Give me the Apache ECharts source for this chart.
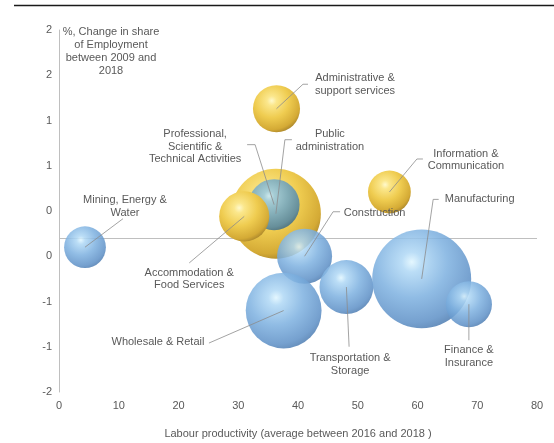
<!DOCTYPE html>
<html>
<head>
<meta charset="utf-8">
<script src="https://cdn.jsdelivr.net/npm/echarts@6/dist/echarts.min.js"></script>
<style>
  html, body { margin: 0; padding: 0; background: #ffffff; }
  #chart { width: 554px; height: 443px; }
</style>
</head>
<body>
<div id="chart"></div>
<script>
// Sectors, drawn back to front so the small bubbles sit over the large ones
const categories = [
  'Public\nadministration',
  'Professional,\nScientific &\nTechnical Activities',
  'Accommodation &\nFood Services',
  'Administrative &\nsupport services',
  'Information &\nCommunication',
  'Mining, Energy &\nWater',
  'Construction',
  'Wholesale & Retail',
  'Transportation &\nStorage',
  'Manufacturing',
  'Finance &\nInsurance'
];
// Labour productivity (average 2016-2018)
const productivity = [36.3, 36.0, 31.0, 36.4, 55.3, 4.35, 41.1, 37.6, 48.1, 60.7, 68.6];
// Change in share of employment 2009-2018 (percentage points)
const shareChange = [0.27, 0.37, 0.24, 1.43, 0.51, -0.10, -0.20, -0.80, -0.54, -0.45, -0.73];
// Share of employment (%), drives bubble area
const employmentShare = [19.0, 6.1, 5.9, 5.2, 4.3, 4.1, 7.1, 13.5, 6.8, 23.0, 5.0];

// Axis ticks
const xTickValues = [0, 10, 20, 30, 40, 50, 60, 70, 80];
const yTickValues = [-1.7, -1.2, -0.7, -0.2, 0.3, 0.8, 1.3, 1.8, 2.3];
const yTickLabels = ['-2', '-1', '-1', '0', '0', '1', '1', '2', '2'];

// ---- styling ----
const FONT = '"Liberation Sans", Arial, sans-serif';
const TEXT = '#595959';

function ball(c) {
  return {
    type: 'radial', x: 0.4, y: 0.33, r: 0.72,
    colorStops: [
      { offset: 0, color: c[0] },
      { offset: 0.14, color: c[1] },
      { offset: 0.5, color: c[2] },
      { offset: 0.85, color: c[3] },
      { offset: 1, color: c[4] }
    ]
  };
}
const tones = {
  gold: ['#FFF9CC', '#FBE78C', '#EFCC50', '#D4AA35', '#A3802A'],
  blue: ['#E0F6FF', '#B0D8F5', '#7EB1E0', '#5F91C7', '#4A78AC'],
  teal: ['#CDE8EC', '#A6CDD5', '#84AEB8', '#678F9A', '#51727C']
};
const toneOf = ['gold', 'teal', 'gold', 'gold', 'gold', 'blue', 'blue', 'blue', 'blue', 'blue', 'blue'];
const opacityOf = { gold: 1, teal: 1, blue: 0.86 };

// pixel radius per sqrt(share)
const RADIUS_K = 10.32;

// Label text position (block centre) and leader path, relative to each bubble centre
const labelPlacement = [
  { text: [54, -73.5],   leader: [[0, 0], [9, -74], [16, -74]] },
  { text: [-79, -58],    leader: [[0, 0], [-19, -60], [-27, -60]] },
  { text: [-55, 62.5],   leader: [[0, 0], [-55, 46.5]] },
  { text: [78.5, -24],   leader: [[0, 0], [26.5, -24.5], [31.5, -24.5]] },
  { text: [76.5, -32],   leader: [[0, 0], [27.5, -33], [33.5, -33]] },
  { text: [40, -40.5],   leader: [[0, 0], [38, -28.5]] },
  { text: [70, -43.5],   leader: [[0, 0], [28.5, -44.5], [35.5, -44.5]] },
  { text: [-125.7, 31.5], leader: [[0, 0], [-74.7, 32.5]] },
  { text: [3.7, 77.2],   leader: [[0, 0], [2.7, 59.7]] },
  { text: [58, -79.5],   leader: [[0, 0], [11.5, -79.5], [17, -79.5]] },
  { text: [0, 52.5],     leader: [[0, 0], [0, 36]] }
];

const bubbleData = categories.map((name, i) => ({
  name: name,
  value: [productivity[i], shareChange[i], employmentShare[i]],
  itemStyle: { color: ball(tones[toneOf[i]]), opacity: opacityOf[toneOf[i]] }
}));

const labelData = categories.map((name, i) => [productivity[i], shareChange[i], i]);

const chart = echarts.init(document.getElementById('chart'), null, { renderer: 'canvas' });

chart.setOption({
  animation: false,
  backgroundColor: '#ffffff',
  grid: { left: 59, right: 17, top: 30, bottom: 51, containLabel: false, outerBoundsMode: 'none' },
  xAxis: {
    type: 'value',
    min: xTickValues[0],
    max: xTickValues[xTickValues.length - 1],
    interval: 10,
    axisLine: { show: false },
    axisTick: { show: false },
    splitLine: { show: false },
    axisLabel: { color: TEXT, fontFamily: FONT, fontSize: 11, margin: 8 },
    name: 'Labour productivity (average between 2016 and 2018 )',
    nameLocation: 'middle',
    nameGap: 36,
    nameTextStyle: { color: TEXT, fontFamily: FONT, fontSize: 11 }
  },
  yAxis: {
    type: 'value',
    min: yTickValues[0],
    max: yTickValues[yTickValues.length - 1],
    axisLine: { show: true, onZero: false, lineStyle: { color: '#BFBFBF', width: 1 } },
    axisTick: { show: false },
    splitLine: { show: false },
    axisLabel: {
      color: TEXT, fontFamily: FONT, fontSize: 11, margin: 7,
      customValues: yTickValues,
      formatter: function (v) {
        const k = yTickValues.findIndex(t => Math.abs(t - v) < 1e-6);
        return k >= 0 ? yTickLabels[k] : '';
      }
    }
  },
  graphic: [
    {
      type: 'line', silent: true,
      shape: { x1: 14, y1: 5.5, x2: 554, y2: 5.5 },
      style: { stroke: '#1A1A1A', lineWidth: 1.6 }
    },
    {
      type: 'text', silent: true, x: 111, y: 25,
      style: {
        text: '%, Change in share\nof Employment\nbetween 2009 and\n2018',
        fill: TEXT, font: '11px ' + FONT, align: 'center', verticalAlign: 'top', lineHeight: 13
      }
    }
  ],
  series: [
    {
      type: 'scatter',
      data: bubbleData,
      symbolSize: function (val) { return 2 * RADIUS_K * Math.sqrt(val[2]); },
      itemStyle: { borderWidth: 0 },
      silent: true,
      markLine: {
        silent: true,
        symbol: ['none', 'none'],
        label: { show: false },
        lineStyle: { color: '#BFBFBF', width: 1, type: 'solid' },
        data: [{ yAxis: 0 }],
        z: 1
      },
      z: 2
    },
    {
      type: 'custom',
      data: labelData,
      clip: false,
      silent: true,
      z: 5,
      renderItem: function (params, api) {
        const c = api.coord([api.value(0), api.value(1)]);
        const p = labelPlacement[api.value(2)];
        const pts = p.leader.map(d => [c[0] + d[0], c[1] + d[1]]);
        return {
          type: 'group',
          children: [
            {
              type: 'polyline',
              shape: { points: pts },
              style: { stroke: '#8C8C8C', lineWidth: 0.8, fill: null }
            },
            {
              type: 'text',
              x: c[0] + p.text[0],
              y: c[1] + p.text[1],
              style: {
                text: categories[api.value(2)],
                fill: TEXT,
                font: '11px ' + FONT,
                align: 'center',
                verticalAlign: 'middle',
                lineHeight: 12.8
              }
            }
          ]
        };
      }
    }
  ]
});
</script>
</body>
</html>
